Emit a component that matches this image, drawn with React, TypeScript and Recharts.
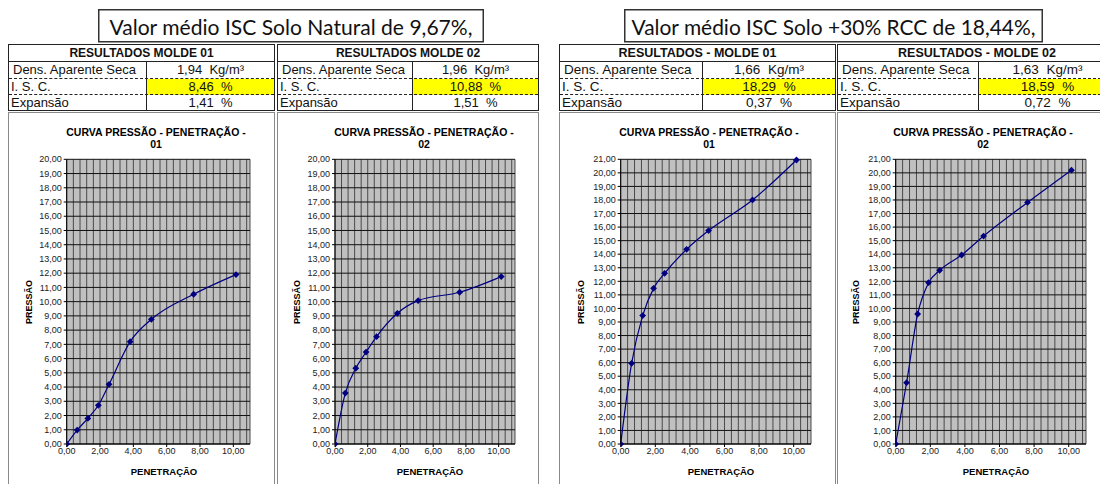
import { LineChart, Line, XAxis, YAxis, CartesianGrid } from 'recharts'

// penetração (mm) — same for the four moldes
const penetracao = [0, 0.63, 1.27, 1.9, 2.54, 3.81, 5.08, 7.62, 10.16]

const pressaoNatural01 = [0, 0.98, 1.8, 2.72, 4.19, 7.19, 8.76, 10.52, 11.9]
const pressaoNatural02 = [0, 3.58, 5.32, 6.46, 7.54, 9.18, 10.07, 10.66, 11.76]
const pressaoRcc01 = [0, 5.95, 9.47, 11.48, 12.59, 14.36, 15.74, 18.0, 20.95]
const pressaoRcc02 = [0, 4.52, 9.59, 11.9, 12.81, 13.94, 15.34, 17.82, 20.2]

const xTicks = [0, 2, 4, 6, 8, 10]
// minor grid of the x axis (unit 0,4) plus the plot edge at 11
const xGrid = [0, 0.4, 0.8, 1.2, 1.6, 2, 2.4, 2.8, 3.2, 3.6, 4, 4.4, 4.8, 5.2, 5.6, 6, 6.4, 6.8, 7.2, 7.6, 8, 8.4, 8.8, 9.2, 9.6, 10, 10.4, 10.8, 11]
const yTicks20 = [0, 1, 2, 3, 4, 5, 6, 7, 8, 9, 10, 11, 12, 13, 14, 15, 16, 17, 18, 19, 20]
const yTicks21 = [0, 1, 2, 3, 4, 5, 6, 7, 8, 9, 10, 11, 12, 13, 14, 15, 16, 17, 18, 19, 20, 21]
const X_MAX = 11

const tabelaTitulos = ['RESULTADOS MOLDE 01', 'RESULTADOS MOLDE 02', 'RESULTADOS - MOLDE 01', 'RESULTADOS - MOLDE 02']
const densidades = ['1,94', '1,96', '1,66', '1,63']
const iscValores = ['8,46', '10,88', '18,29', '18,59']
const expansoes = ['1,41', '1,51', '0,37', '0,72']

const NAVY = '#000080'
const ARIAL = '"Liberation Sans", Arial, sans-serif'

const fmt = (v: number) => v.toFixed(2).replace('.', ',')

const Diamond = (props: any) => {
  const { cx, cy, index } = props
  if (cx == null || cy == null) return <g key={index} />
  const r = 3.4
  return (
    <path
      key={index}
      d={`M${cx},${cy - r}L${cx + r},${cy}L${cx},${cy + r}L${cx - r},${cy}Z`}
      fill={NAVY}
    />
  )
}

// vertical grid lines from the x scale, at every minor unit
const minorGridX = (p: any) => {
  const scale = p?.xAxis?.scale
  if (typeof scale === 'function') return xGrid.map((v) => scale(v))
  const { left, width } = p.offset
  return xGrid.map((v) => left + (v / X_MAX) * width)
}

interface TabelaProps {
  x: number
  w: number
  split: number
  idx: number
  fs: number
}

function Tabela({ x, w, split, idx, fs }: TabelaProps) {
  const col = split - x
  const cell = (top: number, h: number, extra: any = {}) => ({
    position: 'absolute' as const,
    top,
    height: h,
    lineHeight: `${h}px`,
    ...extra,
  })
  return (
    <div
      style={{
        position: 'absolute', left: x, top: 44, width: w, height: 67,
        border: '1px solid #222', boxSizing: 'border-box', fontFamily: ARIAL,
        fontSize: fs, color: '#111', background: '#fff', whiteSpace: 'nowrap',
      }}
    >
      <div style={cell(0, 16, { left: 0, width: w - 2, textAlign: 'center', fontWeight: 'bold', fontSize: idx < 2 ? 12 : 12.5, borderBottom: '1px solid #222' })}>
        {tabelaTitulos[idx]}
      </div>
      <div style={cell(17, 16, { left: 0, width: w - 2, borderBottom: '1px dashed #222' })} />
      <div style={cell(34, 16, { left: col - 1, width: w - col - 1, background: '#ffff00' })} />
      <div style={cell(34, 15, { left: 0, width: w - 2, borderBottom: '1px dashed #222' })} />
      <div style={{ position: 'absolute', left: col - 1, top: 17, width: 1, height: 48, background: '#222' }} />
      <div style={cell(17, 16, { left: 4 })}>Dens. Aparente Seca</div>
      <div style={cell(17, 16, { left: col, width: w - col - 2, textAlign: 'center' })}>{densidades[idx]}&nbsp; Kg/m³</div>
      <div style={cell(34, 15, { left: 2 })}>I. S. C.</div>
      <div style={cell(34, 15, { left: col, width: w - col - 2, textAlign: 'center' })}>{iscValores[idx]}&nbsp; %</div>
      <div style={cell(50, 15, { left: 2 })}>Expansão</div>
      <div style={cell(50, 15, { left: col, width: w - col - 2, textAlign: 'center' })}>{expansoes[idx]}&nbsp; %</div>
    </div>
  )
}

interface PainelProps {
  bx: number
  bw: number
  plotLeft: number
  plotRight: number
  yMax: number
  values: number[]
  num: string
  titleX: number
  yTitleX: number
  xTitleX: number
}

function Painel({ bx, bw, plotLeft, plotRight, yMax, values, num, titleX, yTitleX, xTitleX }: PainelProps) {
  const by = 112
  const bh = 380
  const data = penetracao.map((p, i) => ({ x: p, y: values[i] }))
  const yTicks = yMax === 20 ? yTicks20 : yTicks21
  const yAxisW = 40
  const margin = {
    top: 159.3 - by,
    right: bw - (plotRight - bx),
    bottom: bh - (444 - by) - 20,
    left: plotLeft - bx - yAxisW,
  }
  const text = { position: 'absolute' as const, fontFamily: ARIAL, fontWeight: 'bold' as const, color: '#000', whiteSpace: 'nowrap' as const }
  return (
    <div style={{ position: 'absolute', left: bx, top: by, width: bw, height: bh, border: '1px solid #8a8a8a', boxSizing: 'border-box', background: '#fff' }}>
      <div style={{ position: 'absolute', left: -1, top: -1 }}>
        <LineChart width={bw} height={bh} data={data} margin={margin}>
          <CartesianGrid
            fill="#c0c0c0"
            horizontal={false}
            stroke="#4a4a4a"
            strokeWidth={1}
            verticalCoordinatesGenerator={minorGridX}
          />
          <CartesianGrid vertical={false} stroke="#111" strokeWidth={1} />
          <XAxis
            type="number"
            dataKey="x"
            domain={[0, X_MAX]}
            ticks={xTicks}
            tickFormatter={fmt}
            height={20}
            tickSize={3}
            tickMargin={1}
            axisLine={{ stroke: '#000' }}
            tickLine={{ stroke: '#000' }}
            tick={{ fill: '#222', fontSize: 9, fontFamily: ARIAL }}
            allowDataOverflow
          />
          <YAxis
            type="number"
            domain={[0, yMax]}
            ticks={yTicks}
            tickFormatter={fmt}
            width={yAxisW}
            interval={0}
            tickSize={3}
            tickMargin={2}
            axisLine={{ stroke: '#000' }}
            tickLine={{ stroke: '#000' }}
            tick={{ fill: '#222', fontSize: 9, fontFamily: ARIAL }}
          />
          <Line
            type="monotone"
            dataKey="y"
            stroke={NAVY}
            strokeWidth={1.2}
            dot={Diamond}
            activeDot={false}
            isAnimationActive={false}
          />
        </LineChart>
      </div>
      <div style={{ ...text, left: titleX - bx - 130, width: 260, top: 125 - by, textAlign: 'center', fontSize: 10.5, lineHeight: '12px' }}>
        CURVA PRESSÃO - PENETRAÇÃO -<br />{num}
      </div>
      <div style={{ ...text, left: yTitleX - bx - 40, width: 80, top: 301 - by - 6, height: 12, lineHeight: '12px', textAlign: 'center', fontSize: 9, transform: 'rotate(-90deg)' }}>
        PRESSÃO
      </div>
      <div style={{ ...text, left: xTitleX - bx - 50, width: 100, top: 465 - by, lineHeight: '12px', textAlign: 'center', fontSize: 9.5 }}>
        PENETRAÇÃO
      </div>
    </div>
  )
}

function TituloBox({ x, w, textW, text }: { x: number; w: number; textW: number; text: string }) {
  return (
    <svg style={{ position: 'absolute', left: x, top: 9 }} width={w} height={34}>
      <rect x={0.75} y={0.75} width={w - 1.5} height={32} fill="#fff" stroke="#333" strokeWidth={1.5} />
      <text
        x={(w - textW) / 2}
        y={26}
        fontFamily="Lato, 'Open Sans', sans-serif"
        fontSize={21}
        fill="#111"
        textLength={textW}
        lengthAdjust="spacingAndGlyphs"
      >
        {text}
      </text>
    </svg>
  )
}

export default function App() {
  return (
    <div style={{ position: 'absolute', left: 0, top: 0, width: 1100, height: 484, overflow: 'hidden', background: '#fff' }}>
      <TituloBox x={98} w={386} textW={363} text="Valor médio ISC Solo Natural de 9,67%," />
      <TituloBox x={624} w={419} textW={404} text="Valor médio ISC Solo +30% RCC de 18,44%," />

      <Tabela x={8} w={267} split={146} idx={0} fs={13} />
      <Tabela x={277} w={262} split={412} idx={1} fs={13} />
      <Tabela x={559} w={277} split={702} idx={2} fs={13.5} />
      <Tabela x={837} w={280} split={978} idx={3} fs={13.5} />

      <Painel bx={8} bw={267} plotLeft={66.7} plotRight={250} yMax={20} values={pressaoNatural01} num="01" titleX={155} yTitleX={28} xTitleX={163} />
      <Painel bx={277} bw={262} plotLeft={335} plotRight={515} yMax={20} values={pressaoNatural02} num="02" titleX={423} yTitleX={296} xTitleX={429} />
      <Painel bx={559} bw={277} plotLeft={620.7} plotRight={811} yMax={21} values={pressaoRcc01} num="01" titleX={708} yTitleX={580} xTitleX={720} />
      <Painel bx={837} bw={280} plotLeft={895.7} plotRight={1086} yMax={21} values={pressaoRcc02} num="02" titleX={982} yTitleX={855} xTitleX={995} />
    </div>
  )
}
